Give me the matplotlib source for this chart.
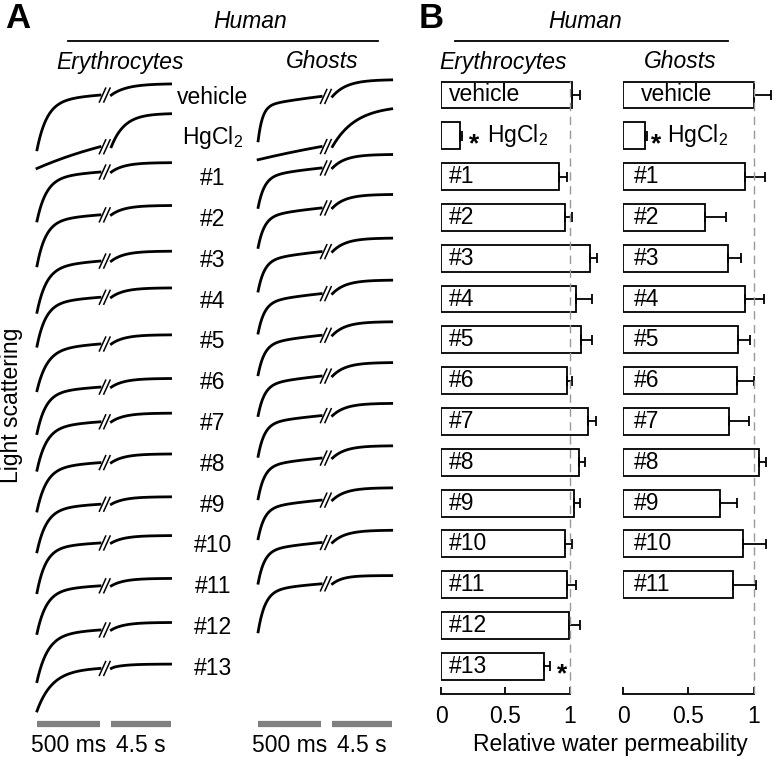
import numpy as np
import matplotlib
matplotlib.use("Agg")
import matplotlib.pyplot as plt
from matplotlib.lines import Line2D

plt.rcParams['font.family'] = ['Liberation Sans', 'DejaVu Sans']
plt.rcParams['mathtext.fontset'] = 'custom'
plt.rcParams['mathtext.rm'] = 'Liberation Sans'
plt.rcParams['mathtext.it'] = 'Liberation Sans:italic'
plt.rcParams['mathtext.default'] = 'regular'

# row labels (shared by both panels)
labels = ['vehicle', 'HgCl$_2$', '#1', '#2', '#3', '#4', '#5', '#6', '#7',
          '#8', '#9', '#10', '#11', '#12', '#13']
n_ghost = 13  # ghosts only tested up to #11

# panel A: light scattering traces, read as two-exponential rise
# (amplitudes in row heights, fast tau in ms, slow tau in s)
ery_tau_fast = [80, 1, 75, 70, 75, 70, 80, 70, 75, 75, 75, 70, 75, 85, 120]
ery_amp_fast = [1.2, 0.0, 1.05, 1.1, 1.1, 1.05, 1.0, 1.0, 1.05, 1.05, 1.05, 1.1, 1.05, 1.15, 1.0]
ery_amp_slow = [0.42, 1.35, 0.38, 0.38, 0.4, 0.38, 0.37, 0.35, 0.35, 0.35, 0.3, 0.3, 0.3, 0.3, 0.15]
ery_tau_slow = [1.2, 1.0, 1.0, 1.0, 1.0, 1.0, 1.0, 1.0, 1.0, 1.0, 1.0, 1.0, 1.0, 1.0, 1.0]
ery_top = [0.32, 0.59, 0.39, 0.34, 0.22, 0.32, 0.17, 0.1, 0.25, 0.25, 0.2, 0.25, 0.2, 0.12, 0.1]

gh_tau_fast = [35, 1, 50, 50, 50, 50, 50, 50, 50, 50, 50, 50, 55]
gh_amp_fast = [0.85, 0.0, 0.75, 0.75, 0.75, 0.75, 0.75, 0.75, 0.8, 0.8, 0.75, 0.8, 1.0]
gh_amp_slow = [0.65, 1.33, 0.55, 0.55, 0.55, 0.55, 0.55, 0.55, 0.5, 0.5, 0.5, 0.5, 0.38]
gh_tau_slow = [1.1, 1.8, 1.0, 1.0, 1.0, 1.0, 1.0, 1.0, 1.0, 1.0, 1.0, 1.0, 0.8]
gh_top = [0.42, 0.71, 0.59, 0.61, 0.54, 0.51, 0.49, 0.49, 0.49, 0.45, 0.42, 0.38, 0.27]

# panel B: relative water permeability (mean, +SE)
ery_perm = [1.02, 0.15, 0.92, 0.96, 1.16, 1.05, 1.09, 0.98, 1.14, 1.07, 1.03, 0.96, 0.98, 0.99, 0.80]
ery_err = [0.06, 0.015, 0.06, 0.06, 0.05, 0.12, 0.08, 0.04, 0.065, 0.05, 0.05, 0.06, 0.07, 0.09, 0.05]
gh_perm = [1.0, 0.17, 0.93, 0.63, 0.80, 0.93, 0.88, 0.87, 0.81, 1.04, 0.74, 0.92, 0.84]
gh_err = [0.13, 0.015, 0.16, 0.16, 0.10, 0.15, 0.095, 0.135, 0.155, 0.055, 0.13, 0.175, 0.175]

W, H = 776, 760


def fx(px):
    return px / W


def fy(py):
    return 1 - py / H


fig = plt.figure(figsize=(W/100, H/100), dpi=100)
fs = 16.5

# ---------------- panel A ----------------
axA = fig.add_axes([0, 0, 410/W, 1])
axA.set_xlim(-37/63, (410-37)/63)
axA.set_ylim(-(H-97)/40.8, 97/40.8)
axA.axis('off')

t_left = np.linspace(0, 0.5, 250)
t_right = np.linspace(0.5, 5.0, 250)
xr0, xr1 = 1.18, 2.12


def signal(t, a1, tau1, a2, tau2):
    return a1*(1 - np.exp(-t/(tau1/1000.0))) + a2*(1 - np.exp(-t/tau2))


def draw_trace(x0, row, a1, tau1, a2, tau2, top):
    base = -row + top - signal(5.0, a1, tau1, a2, tau2)
    yl = base + signal(t_left, a1, tau1, a2, tau2)
    yr = base + signal(t_right, a1, tau1, a2, tau2)
    axA.plot(x0 + t_left/0.5, yl, color='black', lw=2.0)
    axA.plot(x0 + xr0 + (t_right-0.5)/4.5*(xr1-xr0), yr, color='black', lw=2.0)
    yb = (yl[-1] + yr[0]) / 2
    for dx in (1.04, 1.11):
        axA.plot([x0+dx-0.05, x0+dx+0.05], [yb-0.17, yb+0.17], color='black', lw=1.1)


for i in range(len(labels)):
    draw_trace(0, i, ery_amp_fast[i], ery_tau_fast[i], ery_amp_slow[i], ery_tau_slow[i], ery_top[i])
    axA.text(2.79, -i, labels[i], ha='center', va='center', fontsize=fs)
for i in range(n_ghost):
    draw_trace(3.51, i, gh_amp_fast[i], gh_tau_fast[i], gh_amp_slow[i], gh_tau_slow[i], gh_top[i])

ybar = -(724-97)/40.8
ylab = -(745-97)/40.8
for x0 in (0, 3.51):
    axA.plot([x0, x0+1], [ybar, ybar], color='#808080', lw=4.5, solid_capstyle='butt')
    axA.plot([x0+xr0-0.01, x0+xr1], [ybar, ybar], color='#808080', lw=4.5, solid_capstyle='butt')
    axA.text(x0+0.5, ylab, '500 ms', ha='center', va='center', fontsize=fs)
    axA.text(x0+(xr0+xr1)/2, ylab, '4.5 s', ha='center', va='center', fontsize=fs)

fig.text(fx(12), fy(405), 'Light scattering', rotation=90, ha='center', va='center', fontsize=fs)
fig.text(fx(18), fy(18), 'A', ha='center', va='center', fontsize=25, fontweight='bold')
fig.text(fx(250), fy(22), 'Human', ha='center', va='center', fontsize=fs, style='italic')
fig.add_artist(Line2D([fx(68), fx(378)], [fy(41), fy(41)], color='black', lw=1.3))
fig.text(fx(120), fy(62), 'Erythrocytes', ha='center', va='center', fontsize=fs, style='italic')
fig.text(fx(322), fy(62), 'Ghosts', ha='center', va='center', fontsize=fs, style='italic')

# ---------------- panel B ----------------
fig.text(fx(431), fy(18), 'B', ha='center', va='center', fontsize=25, fontweight='bold')
fig.text(fx(585), fy(22), 'Human', ha='center', va='center', fontsize=fs, style='italic')
fig.add_artist(Line2D([fx(455), fx(728)], [fy(41), fy(41)], color='black', lw=1.3))
fig.text(fx(503), fy(62), 'Erythrocytes', ha='center', va='center', fontsize=fs, style='italic')
fig.text(fx(680), fy(62), 'Ghosts', ha='center', va='center', fontsize=fs, style='italic')

ax_h = (694-75)/H
axE = fig.add_axes([fx(441), fy(694), (602-441)/W, ax_h])
axG = fig.add_axes([fx(623), fy(694), (776-623)/W, ax_h])
axE.set_xlim(0, 1.25)
axG.set_xlim(0, (776-623)/130.7)

panels = [(axE, ery_perm, ery_err, 0.065, 0.26, 0.36),
          (axG, gh_perm, gh_err, 0.085, 0.255, 0.34)]
for ax, vals, errs, tx, sx, hx in panels:
    rows = np.arange(len(vals))
    ax.set_ylim(14.68, -0.49)
    ax.barh(rows, vals, height=0.66, color='white', edgecolor='black', lw=1.3, zorder=2)
    ax.errorbar(vals, rows, xerr=[np.zeros(len(vals)), errs], fmt='none',
                ecolor='black', elinewidth=1.3, capsize=3.8, capthick=1.3, zorder=3, clip_on=False)
    ax.axvline(1, ymin=0, ymax=0.99, color='#999999', lw=1, dashes=(6, 4), zorder=4)
    for i in rows:
        if i == 1:
            ax.text(sx, i + 0.2, '*', ha='center', va='center', fontsize=19, fontweight='bold')
            ax.text(hx, i, labels[i], ha='left', va='center', fontsize=fs)
        elif i == 0 and ax is axG:
            ax.text(0.14, i, labels[i], ha='left', va='center', fontsize=fs)
        else:
            ax.text(tx, i, labels[i], ha='left', va='center', fontsize=fs)
    for s in ('top', 'right', 'left'):
        ax.spines[s].set_visible(False)
    ax.spines['bottom'].set_bounds(0, 1)
    ax.spines['bottom'].set_linewidth(1.3)
    ax.set_yticks([])
    ax.set_xticks([0, 0.5, 1])
    ax.set_xticklabels(['0', '0.5', '1'])
    ax.tick_params(axis='x', direction='in', length=5, width=1.3, labelsize=fs, pad=8)
    ax.patch.set_visible(False)

axE.text(0.94, 14 + 0.2, '*', ha='center', va='center', fontsize=19, fontweight='bold')
fig.text(fx(610), fy(745), 'Relative water permeability', ha='center', va='center', fontsize=fs)

fig.savefig('out.png', dpi=100)
